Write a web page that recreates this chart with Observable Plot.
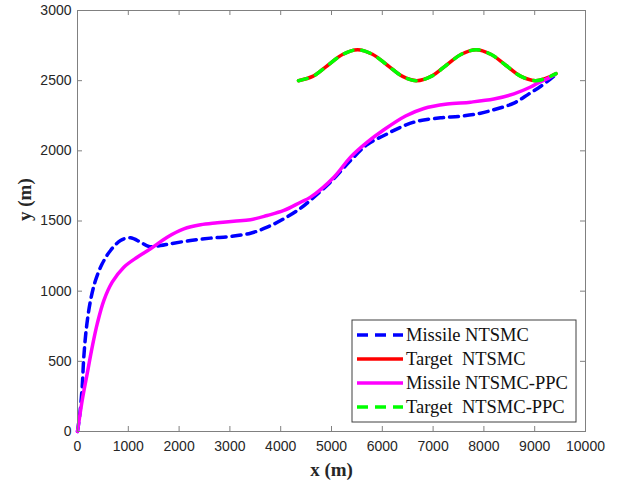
<!DOCTYPE html>
<html>
<head>
<meta charset="utf-8">
<script src="https://cdn.jsdelivr.net/npm/d3@7"></script>
<script src="https://cdn.jsdelivr.net/npm/@observablehq/plot@0.6"></script>
<style>
  html, body { margin: 0; padding: 0; background: #fff; }
  #chart { width: 617px; height: 489px; }
</style>
</head>
<body>
<div id="chart"></div>
<script>
// ---- data ----
const xTicks = [0, 1000, 2000, 3000, 4000, 5000, 6000, 7000, 8000, 9000, 10000];
const yTicks = [0, 500, 1000, 1500, 2000, 2500, 3000];

const seriesNames = ["Missile NTSMC", "Target  NTSMC", "Missile NTSMC-PPC", "Target  NTSMC-PPC"];

const missileNtsmcX = [0, 46, 92, 124, 177, 256, 354, 486, 650, 847, 1043, 1241, 1405, 1634, 1831, 2224, 2619, 3013, 3406, 3735, 4062, 4391, 4653, 4981, 5375, 5704, 6032, 6359, 6688, 7147, 7540, 7934, 8262, 8591, 8886, 9120, 9300, 9400];
const missileNtsmcY = [0, 126, 316, 530, 743, 933, 1076, 1195, 1290, 1361, 1380, 1349, 1318, 1325, 1338, 1361, 1378, 1390, 1413, 1456, 1516, 1591, 1670, 1777, 1931, 2045, 2109, 2168, 2211, 2235, 2247, 2268, 2300, 2340, 2406, 2460, 2509, 2540];

const missilePpcX = [0, 92, 190, 289, 388, 518, 683, 912, 1175, 1437, 1766, 2093, 2422, 2751, 3077, 3406, 3735, 4062, 4391, 4587, 5047, 5375, 5704, 6032, 6458, 6819, 7278, 7738, 8197, 8591, 8919, 9100, 9264, 9400];
const missilePpcY = [0, 221, 411, 601, 767, 933, 1064, 1171, 1242, 1302, 1385, 1444, 1473, 1487, 1499, 1509, 1539, 1575, 1634, 1670, 1812, 1955, 2062, 2150, 2248, 2302, 2333, 2347, 2369, 2406, 2455, 2490, 2516, 2545];

const targetX = [4350, 4640, 4930, 5225, 5515, 5805, 6100, 6390, 6680, 6970, 7260, 7555, 7845, 8135, 8430, 8720, 9010, 9200, 9420];
const targetNtsmcY = [2500, 2532, 2610, 2688, 2720, 2688, 2610, 2532, 2500, 2532, 2610, 2688, 2720, 2688, 2610, 2532, 2500, 2514, 2550];
const targetPpcY = [2500, 2532, 2610, 2688, 2720, 2688, 2610, 2532, 2500, 2532, 2610, 2688, 2720, 2688, 2610, 2532, 2500, 2514, 2550];

// ---- build tables ----
const zip = (xs, ys) => xs.map((x, i) => ({x, y: ys[i]}));
const mNt = zip(missileNtsmcX, missileNtsmcY);
const mPpc = zip(missilePpcX, missilePpcY);
const tNt = zip(targetX, targetNtsmcY);
const tPpc = zip(targetX, targetPpcY);

const colors = ["#0000ff", "#ff0000", "#ff00ff", "#00ff00"];
const dashes = ["11,7", null, null, "11,7"];

const textColor = "#262626";
const frameColor = "#808080";
const tickFont = "'Liberation Sans', Arial, sans-serif";
const serif = "'Liberation Serif', 'Times New Roman', serif";

const chart = Plot.plot({
  width: 617,
  height: 489,
  marginLeft: 77,
  marginRight: 32,
  marginTop: 10,
  marginBottom: 58,
  style: {fontFamily: tickFont, fontSize: "14px", color: textColor, background: "#fff"},
  x: {domain: [0, 10000]},
  y: {domain: [0, 3000]},
  marks: [
    Plot.axisX(xTicks, {tickSize: 0, tickPadding: 10, tickFormat: d => String(d), label: null, fontSize: 14}),
    Plot.axisY(yTicks, {tickSize: 0, tickPadding: 6, tickFormat: d => String(d), label: null, fontSize: 14}),
    // inward ticks on all four sides
    Plot.tickX(xTicks, {x: d => d, insetTop: 416, stroke: frameColor, strokeWidth: 1}),
    Plot.tickX(xTicks, {x: d => d, insetBottom: 416, stroke: frameColor, strokeWidth: 1}),
    Plot.tickY(yTicks, {y: d => d, insetRight: 503, stroke: frameColor, strokeWidth: 1}),
    Plot.tickY(yTicks, {y: d => d, insetLeft: 503, stroke: frameColor, strokeWidth: 1}),
    Plot.line(mNt, {x: "x", y: "y", stroke: colors[0], strokeWidth: 3.5, strokeDasharray: "9,6", curve: "catmull-rom"}),
    Plot.line(tNt, {x: "x", y: "y", stroke: colors[1], strokeWidth: 3.5, curve: "catmull-rom"}),
    Plot.line(mPpc, {x: "x", y: "y", stroke: colors[2], strokeWidth: 3.5, curve: "catmull-rom"}),
    Plot.line(tPpc, {x: "x", y: "y", stroke: colors[3], strokeWidth: 3.5, strokeDasharray: "9,9", curve: "catmull-rom"}),
    Plot.frame({stroke: frameColor, strokeWidth: 1}),
    Plot.text(["x (m)"], {frameAnchor: "bottom", dy: 44, fontWeight: "bold", fontSize: 19, fontFamily: serif, fill: textColor}),
    Plot.text(["y (m)"], {frameAnchor: "left", dx: -53, rotate: -90, fontWeight: "bold", fontSize: 19, fontFamily: serif, fill: textColor})
  ]
});

document.getElementById("chart").appendChild(chart);

// ---- legend inside the plot (lower right) ----
const svg = d3.select(chart);
const lg = svg.append("g").attr("class", "legend").attr("text-anchor", "start");
lg.append("rect")
  .attr("x", 352).attr("y", 320).attr("width", 224).attr("height", 102)
  .attr("fill", "#fff").attr("stroke", "#404040").attr("stroke-width", 1);
seriesNames.forEach((name, i) => {
  const cy = 335 + i * 24;
  lg.append("line")
    .attr("x1", 357).attr("x2", 403).attr("y1", cy).attr("y2", cy)
    .attr("stroke", colors[i]).attr("stroke-width", 3.5)
    .attr("stroke-dasharray", dashes[i]);
  lg.append("text")
    .attr("x", 406).attr("y", cy).attr("dy", "0.35em")
    .attr("text-anchor", "start")
    .attr("font-family", serif).attr("font-size", 18.5)
    .attr("fill", "#111")
    .style("white-space", "pre")
    .text(name);
});
</script>
</body>
</html>
